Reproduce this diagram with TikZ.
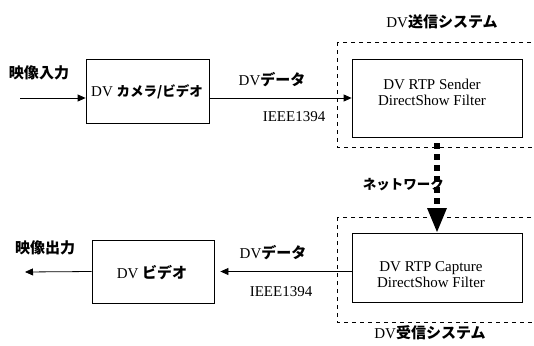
\documentclass[tikz,border=0pt]{standalone}
\usepackage{fontspec}
\setmainfont{Liberation Serif}
\newfontfamily\jp{Noto Sans CJK JP}
\usetikzlibrary{arrows.meta}
\newcommand{\J}[1]{{\jp\bfseries #1}}
\newcommand{\Jn}[1]{{\jp\bfseries\fontsize{13.5}{16}\selectfont #1}}
\tikzset{
  blk/.style={draw, line width=0.8pt, inner sep=0pt, fill=white},
  sysbox/.style={draw, line width=0.7pt, dash pattern=on 4pt off 4pt},
  lbl/.style={inner sep=0pt, font=\fontsize{15}{17}\selectfont},
  conn/.style={line width=0.8pt, -{Triangle[length=8pt,width=7pt]}},
}
\begin{document}
\begin{tikzpicture}[x=1pt,y=-1pt]
\useasboundingbox (0,0) rectangle (534,345);
\clip (0,0) rectangle (534,345);
% system dashed boxes
\draw[sysbox] (337,42) rectangle (545,147);
\draw[sysbox] (337,217) rectangle (545,322);
\node[lbl] (sendt) at (442,22) {DV\J{送信システム}};
\node[lbl] (recvt) at (430,333) {DV\J{受信システム}};
% blocks
\node[blk, minimum width=123pt, minimum height=64pt] (cam) at (147.5,91) {};
\node[lbl] (camt) at (147,92) {DV \Jn{カメラ/ビデオ}};
\node[blk, minimum width=170pt, minimum height=78pt] (snd) at (437,98) {};
\node[lbl, align=center] (sndt) at (432,92) {DV RTP Sender\\[-1pt]DirectShow Filter};
\node[blk, minimum width=170pt, minimum height=69pt] (rcv) at (437,267.5) {};
\node[lbl, align=center] (rcvt) at (431,275) {DV RTP Capture\\[-1pt]DirectShow Filter};
\node[blk, minimum width=122pt, minimum height=63pt] (vid) at (153,271.5) {};
\node[lbl] (vidt) at (152,273) {DV \J{ビデオ}};
% labels
\node[lbl] (inl) at (39,73) {\J{映像入力}};
\node[lbl] (outl) at (45,248) {\J{映像出力}};
\node[lbl] (d1) at (272,80) {DV\J{データ}};
\node[lbl] (i1) at (294,117) {IEEE1394};
\node[lbl] (d2) at (273,253) {DV\J{データ}};
\node[lbl] (i2) at (281,292) {IEEE1394};
% connectors
\coordinate (inS) at (20,98);
\coordinate (outE) at (25,272);
\draw[conn] (inS) -- (cam.west |- snd.west);
\draw[conn] (cam.east |- snd.west) -- (snd.west);
\draw[conn, shorten >=6pt] (rcv.west |- vid.east) -- (vid.east);
\draw[conn] (vid.west |- vid.east) -- (outE);
% network arrow
\coordinate (n1) at (437,143);
\coordinate (n2) at (437,208);
\coordinate (n3) at (437,232);
\draw[line width=6pt, dash pattern=on 6pt off 5pt] (n1) -- (n2);
\fill (n2) ++(-10,0) -- ++(20,0) -- (n3) -- cycle;
\node[lbl, anchor=east] (netl) at (444,185) {\Jn{ネットワーク}};
\end{tikzpicture}
\end{document}
